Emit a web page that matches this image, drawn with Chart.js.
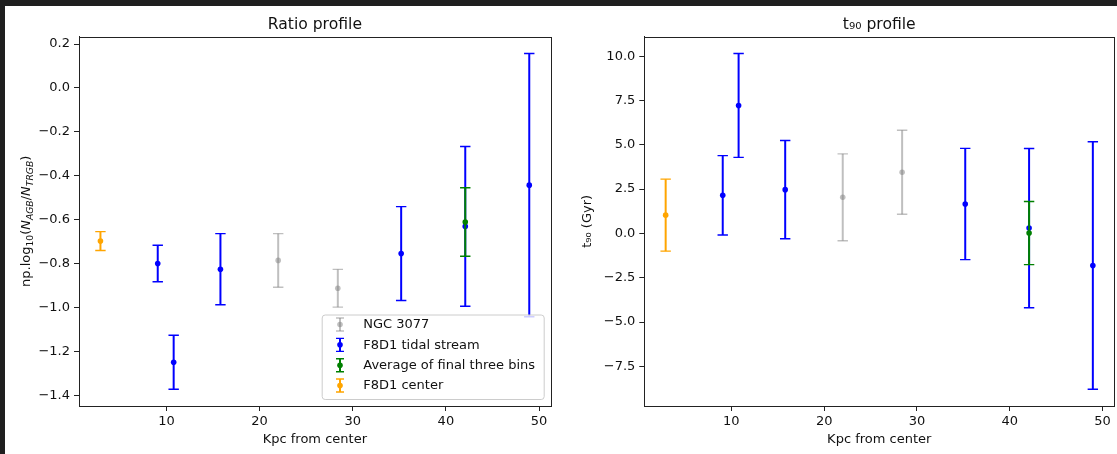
<!DOCTYPE html>
<html>
<head>
<meta charset="utf-8">
<script src="https://cdn.jsdelivr.net/npm/chart.js@4.4.0/dist/chart.umd.min.js"></script>
<style>
  body { margin: 0; background: #1f1f1f; width: 1117px; height: 454px; overflow: hidden; position: relative; }
  #paper { position: absolute; left: 5px; top: 6px; right: 0; bottom: 0; background: #fff; }
  canvas { position: absolute; top: 0; }
  #ratio { left: 0; }
  #t90 { left: 560px; }
</style>
</head>
<body>
<div id="paper"></div>
<canvas id="ratio" width="560" height="454"></canvas>
<canvas id="t90" width="557" height="454"></canvas>
<script>
// --- data ---
const ngcKpc = [22.0, 28.4];
const ngcRatio = [-0.786, -0.913];
const ngcRatioErr = [0.122, 0.086];
const ngcT90 = [2.04, 3.45];
const ngcT90Err = [2.45, 2.37];

const streamKpc = [9.07, 10.78, 15.8, 35.2, 42.08, 48.95];
const streamRatio = [-0.80, -1.25, -0.826, -0.755, -0.631, -0.443];
const streamRatioErr = [0.083, 0.123, 0.162, 0.214, 0.364, 0.60];
const streamT90 = [2.15, 7.22, 2.47, 1.66, 0.30, -1.81];
const streamT90Err = [2.24, 2.93, 2.77, 3.14, 4.49, 6.98];

const avgKpc = [42.08];
const avgRatio = [-0.611];
const avgRatioErr = [0.156];
const avgT90 = [0.02];
const avgT90Err = [1.78];

const centerKpc = [2.92];
const centerRatio = [-0.698];
const centerRatioErr = [0.043];
const centerT90 = [1.03];
const centerT90Err = [2.03];

const seriesLabels = ['NGC 3077', 'F8D1 tidal stream', 'Average of final three bins', 'F8D1 center'];
const xTicks = [10, 20, 30, 40, 50];
const ratioTicks = [-1.4, -1.2, -1.0, -0.8, -0.6, -0.4, -0.2, 0.0, 0.2];
const t90Ticks = [-7.5, -5.0, -2.5, 0.0, 2.5, 5.0, 7.5, 10.0];

const GREY = 'rgba(128,128,128,0.5)';
const BLUE = '#0000ff';
const GREEN = '#008000';
const ORANGE = '#ffa500';
const INK = '#111';

Chart.defaults.font.family = "'DejaVu Sans', sans-serif";
Chart.defaults.font.size = 13;
Chart.defaults.color = INK;

const pts = (xs, ys) => xs.map((x, i) => ({ x: x, y: ys[i] }));
// matplotlib style autoscale: data extent plus 5% each side
function limits(groups) {
  let lo = Infinity, hi = -Infinity;
  groups.forEach(([v, e]) => v.forEach((y, i) => { lo = Math.min(lo, y - (e ? e[i] : 0)); hi = Math.max(hi, y + (e ? e[i] : 0)); }));
  const pad = (hi - lo) * 0.05;
  return [lo - pad, hi + pad];
}
const xLim = limits([[ngcKpc], [streamKpc], [avgKpc], [centerKpc]]);
const minus = v => v.toFixed(1).replace('-', '\u2212');

function makeSets(ngc, ngcE, str, strE, avg, avgE, cen, cenE) {
  const cols = [GREY, BLUE, GREEN, ORANGE];
  const groups = [[ngcKpc, ngc, ngcE], [streamKpc, str, strE], [avgKpc, avg, avgE], [centerKpc, cen, cenE]];
  return groups.map((g, k) => ({
    label: seriesLabels[k], data: pts(g[0], g[1]), errors: g[2],
    borderColor: cols[k], backgroundColor: cols[k], pointRadius: 2.8, pointBorderWidth: 0,
    pointHoverRadius: 2.8, order: 4 - k
  }));
}

// --- plugins ---
const errorBars = {
  id: 'errorBars',
  beforeDatasetDraw(chart, args) {
    const ds = chart.data.datasets[args.index];
    const xs = chart.scales.x, ys = chart.scales.y, c = chart.ctx;
    c.save();
    c.strokeStyle = ds.borderColor;
    ds.data.forEach((p, i) => {
      const px = xs.getPixelForValue(p.x);
      const top = ys.getPixelForValue(p.y + ds.errors[i]);
      const bot = ys.getPixelForValue(p.y - ds.errors[i]);
      c.lineWidth = 2; c.beginPath(); c.moveTo(px, top); c.lineTo(px, bot); c.stroke();
      c.lineWidth = 1.4; c.beginPath();
      c.moveTo(px - 5.2, top); c.lineTo(px + 5.2, top);
      c.moveTo(px - 5.2, bot); c.lineTo(px + 5.2, bot); c.stroke();
    });
    c.restore();
  }
};

const frame = {
  id: 'frame',
  afterDatasetsDraw(chart) {
    const a = chart.chartArea, c = chart.ctx;
    c.save(); c.strokeStyle = '#222'; c.lineWidth = 1;
    c.strokeRect(Math.round(a.left) + 0.5, Math.round(a.top) + 0.5, Math.round(a.right - a.left), Math.round(a.bottom - a.top));
    c.restore();
  }
};

const legendBox = {
  id: 'legendBox',
  afterDraw(chart) {
    const a = chart.chartArea, c = chart.ctx;
    const w = 222, h = 84.5;
    const L = a.right - 7 - w, T = a.bottom - 7 - h;
    c.save();
    c.fillStyle = 'rgba(255,255,255,0.8)'; c.strokeStyle = '#cccccc'; c.lineWidth = 1;
    c.beginPath(); c.roundRect(L + 0.5, T + 0.5, w, h, 3); c.fill(); c.stroke();
    chart.data.datasets.forEach((ds, i) => {
      const cy = T + 10 + i * 20.35, cx = L + 18.3;
      c.strokeStyle = ds.borderColor; c.fillStyle = ds.borderColor;
      c.lineWidth = 2; c.beginPath(); c.moveTo(cx, cy - 6.5); c.lineTo(cx, cy + 6.5); c.stroke();
      c.lineWidth = 1.4; c.beginPath();
      c.moveTo(cx - 4, cy - 6.5); c.lineTo(cx + 4, cy - 6.5);
      c.moveTo(cx - 4, cy + 6.5); c.lineTo(cx + 4, cy + 6.5); c.stroke();
      c.beginPath(); c.arc(cx, cy, 2.8, 0, Math.PI * 2); c.fill();
      c.fillStyle = INK; c.font = "13px 'DejaVu Sans'"; c.textBaseline = 'middle'; c.textAlign = 'left';
      c.fillText(ds.label, L + 41.6, cy + 0.5);
    });
    c.restore();
  }
};

// y label with subscripts: np.log10(N_AGB/N_TRGB)
const ratioYLabel = {
  id: 'ratioYLabel',
  afterDraw(chart) {
    const a = chart.chartArea, c = chart.ctx;
    const big = "13px 'DejaVu Sans'", small = "9.2px 'DejaVu Sans'";
    const bigI = "italic 13px 'DejaVu Sans'", smallI = "italic 9.2px 'DejaVu Sans'";
    const parts = [['np.log', big, 0], ['10', small, 2.6], ['(', big, 0], ['N', bigI, 0], ['AGB', smallI, 2.6],
                   ['/', big, 0], ['N', bigI, 0], ['TRGB', smallI, 2.6], [')', big, 0]];
    c.save();
    let total = 0;
    parts.forEach(p => { c.font = p[1]; total += c.measureText(p[0]).width; });
    c.translate(30, (a.top + a.bottom) / 2);
    c.rotate(-Math.PI / 2);
    c.fillStyle = INK; c.textBaseline = 'alphabetic'; c.textAlign = 'left';
    let x = -total / 2;
    parts.forEach(p => { c.font = p[1]; c.fillText(p[0], x, p[2]); x += c.measureText(p[0]).width; });
    c.restore();
  }
};

function axes(yTicks, yLim, yWidth, yTitle) {
  return {
    x: {
      type: 'linear', min: xLim[0], max: xLim[1],
      afterBuildTicks: s => { s.ticks = xTicks.map(v => ({ value: v })); },
      afterFit: s => { s.height = 48; },
      ticks: { padding: 3, callback: v => String(v), maxRotation: 0 },
      grid: { drawOnChartArea: false, tickLength: 5, tickColor: '#222', color: '#222' },
      border: { display: true, color: '#222' },
      title: { display: true, text: 'Kpc from center', font: { size: 13 }, padding: { bottom: 6.7 } }
    },
    y: {
      type: 'linear', min: yLim[0], max: yLim[1],
      afterBuildTicks: s => { s.ticks = yTicks.map(v => ({ value: v })); },
      afterFit: s => { s.width = yWidth; },
      ticks: { padding: 4, callback: v => minus(v) },
      grid: { drawOnChartArea: false, tickLength: 5, tickColor: '#222', color: '#222' },
      border: { display: true, color: '#222' },
      title: yTitle ? { display: true, text: yTitle, font: { size: 13 }, padding: { top: 20 } } : { display: false }
    }
  };
}

function baseOptions(title, scales, padRight) {
  return {
    responsive: false, animation: false, devicePixelRatio: 1,
    layout: { padding: { left: 0, right: padRight, top: 0, bottom: 0 } },
    plugins: {
      legend: { display: false }, tooltip: { enabled: false },
      title: { display: true, fullSize: false, text: title, font: { size: 15.6, weight: 'normal' }, color: INK, padding: { top: 16, bottom: 2 } }
    },
    scales: scales
  };
}

new Chart(document.getElementById('ratio'), {
  type: 'scatter',
  data: { datasets: makeSets(ngcRatio, ngcRatioErr, streamRatio, streamRatioErr, avgRatio, avgRatioErr, centerRatio, centerRatioErr) },
  options: baseOptions('Ratio profile',
    axes(ratioTicks, limits([[ngcRatio, ngcRatioErr], [streamRatio, streamRatioErr], [avgRatio, avgRatioErr], [centerRatio, centerRatioErr]]), 79, null), 9.3),
  plugins: [errorBars, frame, legendBox, ratioYLabel]
});

new Chart(document.getElementById('t90'), {
  type: 'scatter',
  data: { datasets: makeSets(ngcT90, ngcT90Err, streamT90, streamT90Err, avgT90, avgT90Err, centerT90, centerT90Err) },
  options: baseOptions('t\u2089\u2080 profile',
    axes(t90Ticks, limits([[ngcT90, ngcT90Err], [streamT90, streamT90Err], [avgT90, avgT90Err], [centerT90, centerT90Err]]), 84.3, 't\u2089\u2080 (Gyr)'), 0.6),
  plugins: [errorBars, frame]
});
</script>
</body>
</html>
